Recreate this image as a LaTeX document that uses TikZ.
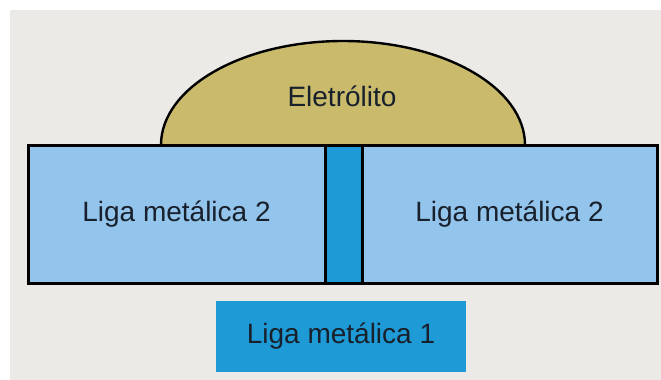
\documentclass[tikz,border=0pt]{standalone}
\usepackage{fontspec}
\setmainfont{Liberation Sans}
\definecolor{fundo}{HTML}{ECEAE7}
\definecolor{eletrolito}{HTML}{C9BA6C}
\definecolor{liga2}{HTML}{93C5EC}
\definecolor{liga1}{HTML}{1E9BD7}
\definecolor{texto}{HTML}{18202B}

\begin{document}
\begin{tikzpicture}[x=1pt,y=-1pt,
    rotulo/.style={font=\fontsize{28}{30}\selectfont,text=texto},
    bloco/.style={draw=black,line width=3pt,inner sep=0pt,rotulo},
    liga2bloco/.style={bloco,fill=liga2,minimum height=138pt},
    liga1bloco/.style={inner sep=0pt,fill=liga1,rotulo}]
                \fill[white] (0,0) rectangle (661,380);
                \fill[fundo] (10,10) rectangle (661,380);
                % gota de eletrolito
                \draw[fill=eletrolito,line width=2.4pt] (161,145) arc (180:360:182 and 104);
                \node[rotulo] (elet) at (342,96) {Eletrólito};
                % ligas
                \node[liga2bloco,minimum width=297pt] (esq) at (176.5,214) {Liga metálica 2};
                \node[liga2bloco,minimum width=295pt] (dir) at (509.5,214) {Liga metálica 2};
                \node[bloco,fill=liga1,minimum width=37pt,minimum height=138pt] (meio) at (343.5,214) {};
                \node[liga1bloco,minimum width=250pt,minimum height=71pt] (base) at (341,336.5) {Liga metálica 1};
            \end{tikzpicture}
\end{document}
